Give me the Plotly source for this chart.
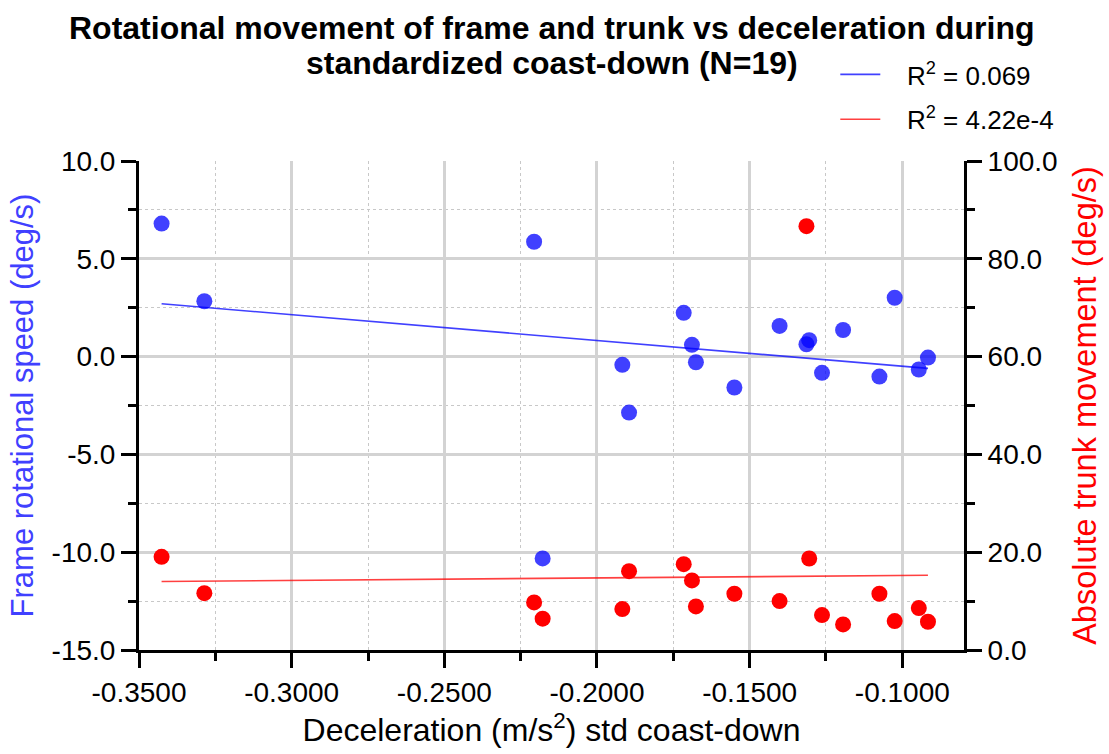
import numpy as np
import plotly.graph_objects as go

# Standardized coast-down results, one entry per rider (N=19)
decel = [-0.3426, -0.3286, -0.2206, -0.2178, -0.1917, -0.1895, -0.1716, -0.1689,
         -0.1676, -0.1550, -0.1402, -0.1314, -0.1305, -0.1263, -0.1194, -0.1075,
         -0.1025, -0.0946, -0.0916]
frame_speed = [6.80, 2.83, 5.87, -10.32, -0.42, -2.86, 2.24, 0.60,
               -0.29, -1.58, 1.57, 0.63, 0.84, -0.83, 1.36, -1.02,
               3.01, -0.66, -0.05]
trunk_move = [19.06, 11.63, 9.73, 6.41, 8.37, 16.12, 17.55, 14.22,
              8.92, 11.50, 10.00, 86.67, 18.71, 7.14, 5.24, 11.50,
              5.92, 8.57, 5.78]

r2_labels = ["R<sup>2</sup> = 0.069", "R<sup>2</sup> = 4.22e-4"]
title_lines = ["Rotational movement of frame and trunk vs deceleration during",
               "standardized coast-down (N=19)"]

x_ticks = [-0.35, -0.30, -0.25, -0.20, -0.15, -0.10]
y1_ticks = [-15, -10, -5, 0, 5, 10]
y2_ticks = [0, 20, 40, 60, 80, 100]

FONT = "Liberation Sans, Arial, sans-serif"
BLUE = "rgba(0,0,255,0.75)"
RED = "rgba(255,0,0,1)"
PAD = "\u00a0\u00a0\u00a0"  # gap between legend key and its label

# least-squares fit lines over the span of the data
x = np.array(decel)
x_fit = np.array([x.min(), x.max()])
b1 = np.polyfit(x, np.array(frame_speed), 1)
b2 = np.polyfit(x, np.array(trunk_move), 1)

fig = go.Figure()
fig.add_trace(go.Scatter(x=decel, y=frame_speed, mode="markers", showlegend=False,
                         marker=dict(size=16, color=BLUE, line=dict(width=0))))
fig.add_trace(go.Scatter(x=x_fit, y=np.polyval(b1, x_fit), mode="lines",
                         name=PAD + r2_labels[0], legendgroup="frame",
                         line=dict(color=BLUE, width=1.6)))
fig.add_trace(go.Scatter(x=decel, y=trunk_move, mode="markers", showlegend=False, yaxis="y2",
                         marker=dict(size=16, color=RED, line=dict(width=0))))
fig.add_trace(go.Scatter(x=x_fit, y=np.polyval(b2, x_fit), mode="lines",
                         name=PAD + r2_labels[1], legendgroup="trunk", yaxis="y2",
                         line=dict(color="rgba(255,0,0,0.75)", width=1.6)))

axis_common = dict(showline=True, linecolor="black", linewidth=3, ticks="outside",
                   ticklen=15, tickwidth=3, tickcolor="black", zeroline=False,
                   tickfont=dict(family=FONT, size=28, color="black"))

# two-line bold heading above the plot
for text, ypos in zip(title_lines, [1.2714, 1.2]):
    fig.add_annotation(text=f"<b>{text}</b>", xref="paper", yref="paper",
                       x=0.5, y=ypos, xanchor="center", yanchor="middle", showarrow=False,
                       font=dict(family=FONT, size=32, color="black"))

fig.update_layout(
    width=1109, height=754,
    margin=dict(l=139, r=142, t=161, b=103),
    paper_bgcolor="white", plot_bgcolor="white",
    font=dict(family=FONT, color="black"),
    xaxis=dict(range=[-0.35, -0.0798], tickvals=x_ticks,
               ticktext=[f"{v:.4f}" for v in x_ticks],
               showgrid=True, gridcolor="#d3d3d3", gridwidth=3,
               minor=dict(dtick=0.025, tick0=-0.35, ticks="outside", ticklen=8, tickwidth=3,
                          tickcolor="black", showgrid=True, gridcolor="#c8c8c8",
                          griddash="dot", gridwidth=1.2),
               title=dict(text="Deceleration (m/s<sup>2</sup>) std coast-down",
                          font=dict(family=FONT, size=32, color="black"), standoff=12),
               **axis_common),
    yaxis=dict(range=[-15, 10], tickvals=y1_ticks,
               ticktext=[f"{v:.1f}" for v in y1_ticks],
               showgrid=True, gridcolor="#d3d3d3", gridwidth=3,
               minor=dict(dtick=2.5, tick0=-15, ticks="outside", ticklen=8, tickwidth=3,
                          tickcolor="black", showgrid=True, gridcolor="#c8c8c8",
                          griddash="dot", gridwidth=1.2),
               title=dict(text="Frame rotational speed (deg/s)",
                          font=dict(family=FONT, size=31, color="rgb(64,64,255)"), standoff=9),
               **axis_common),
    yaxis2=dict(range=[0, 100], overlaying="y", side="right", tickvals=y2_ticks,
                ticktext=[f"{v:.1f}" for v in y2_ticks], showgrid=False,
                minor=dict(dtick=10, tick0=0, ticks="outside", ticklen=8, tickwidth=3,
                           tickcolor="black", showgrid=False),
                title=dict(text="Absolute trunk movement (deg/s)",
                           font=dict(family=FONT, size=32.5, color="red"), standoff=17),
                **axis_common),
    legend=dict(x=0.844, y=1.225, xanchor="left", yanchor="top", bgcolor="rgba(0,0,0,0)",
                font=dict(family=FONT, size=26, color="black"), itemwidth=40,
                tracegroupgap=8),
)

fig.write_html("out.html")
